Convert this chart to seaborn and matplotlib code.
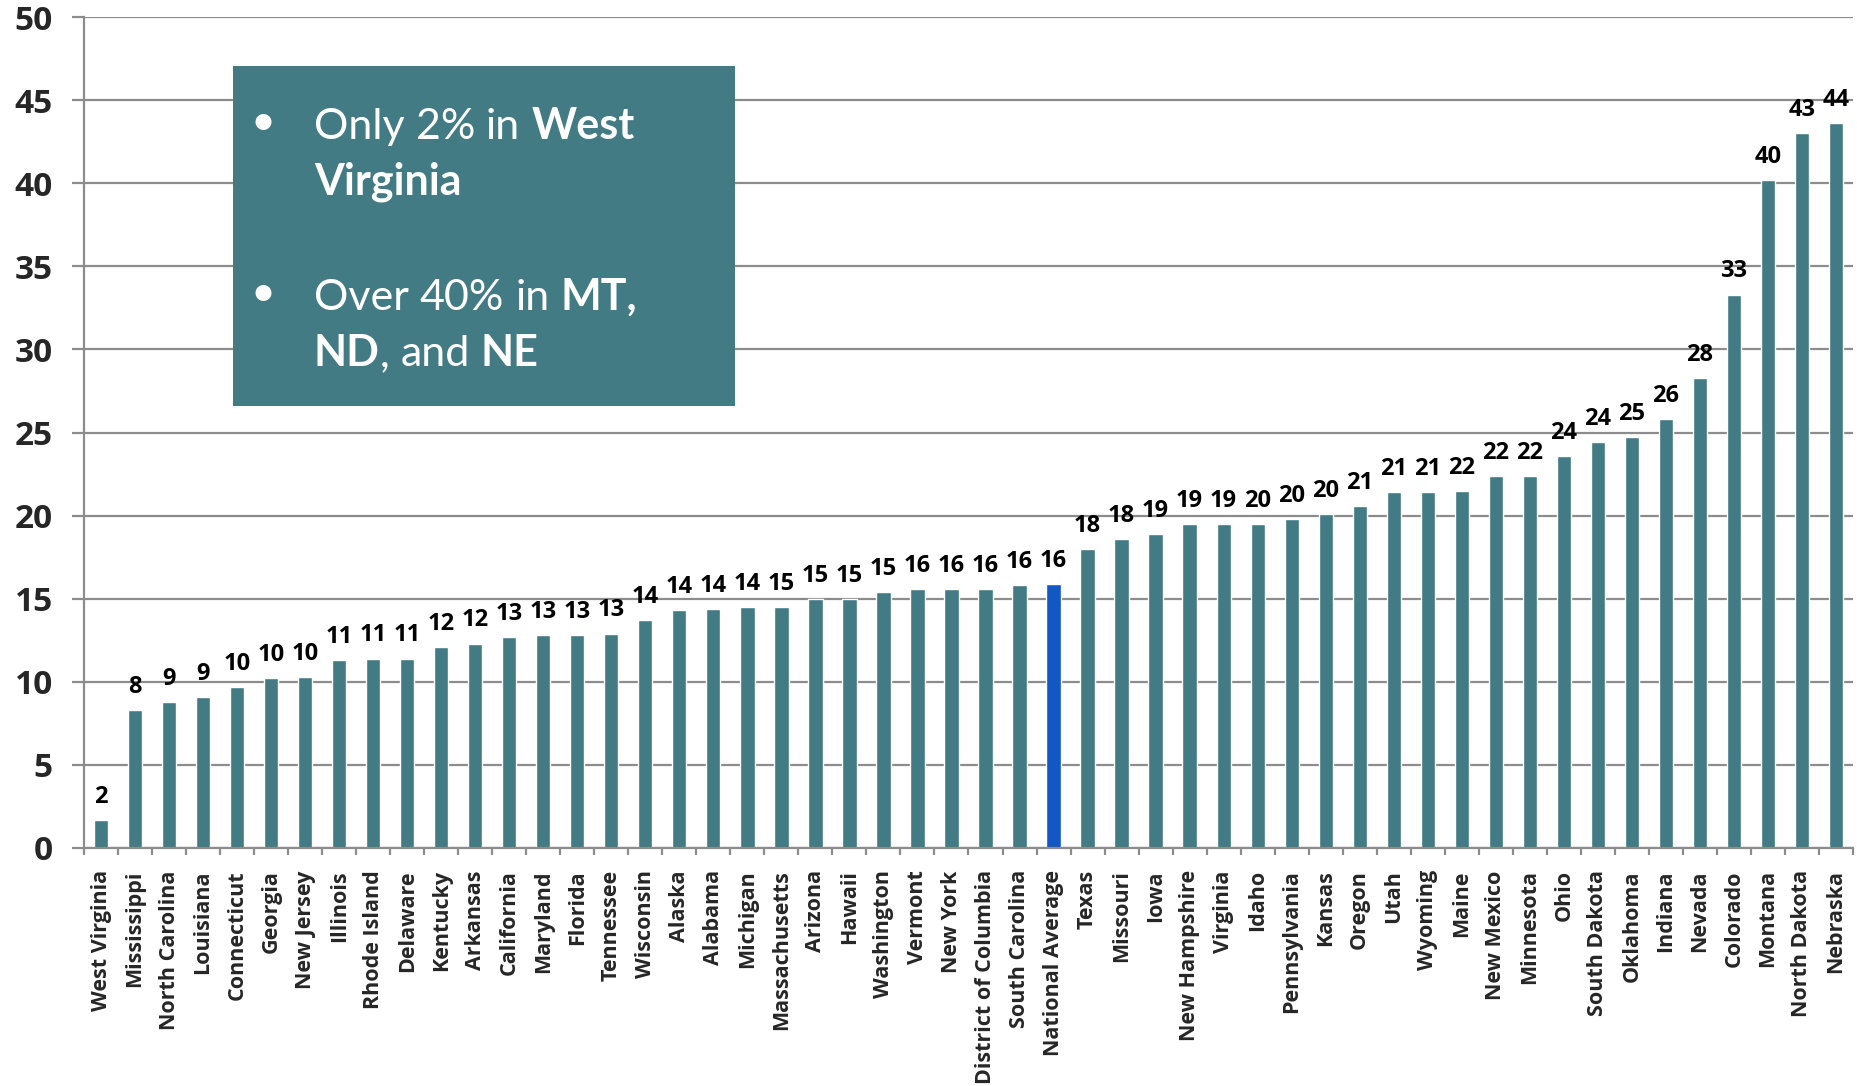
import matplotlib
matplotlib.use("Agg")
import matplotlib.pyplot as plt
import seaborn as sns
import pandas as pd
from matplotlib.patches import Rectangle

states = ["West Virginia", "Mississippi", "North Carolina", "Louisiana", "Connecticut",
          "Georgia", "New Jersey", "Illinois", "Rhode Island", "Delaware", "Kentucky",
          "Arkansas", "California", "Maryland", "Florida", "Tennessee", "Wisconsin",
          "Alaska", "Alabama", "Michigan", "Massachusetts", "Arizona", "Hawaii",
          "Washington", "Vermont", "New York", "District of Columbia", "South Carolina",
          "National Average", "Texas", "Missouri", "Iowa", "New Hampshire", "Virginia",
          "Idaho", "Pennsylvania", "Kansas", "Oregon", "Utah", "Wyoming", "Maine",
          "New Mexico", "Minnesota", "Ohio", "South Dakota", "Oklahoma", "Indiana",
          "Nevada", "Colorado", "Montana", "North Dakota", "Nebraska"]

values = [1.7, 8.3, 8.8, 9.1, 9.7, 10.2, 10.3, 11.3, 11.4, 11.4, 12.1, 12.3, 12.7, 12.8,
          12.8, 12.9, 13.7, 14.3, 14.4, 14.5, 14.5, 15.0, 15.0, 15.4, 15.6, 15.6, 15.6,
          15.8, 15.9, 18.0, 18.6, 18.9, 19.5, 19.5, 19.5, 19.8, 20.1, 20.6, 21.4, 21.4,
          21.5, 22.4, 22.4, 23.6, 24.4, 24.7, 25.8, 28.3, 33.3, 40.2, 43.0, 43.6]

value_labels = ["2", "8", "9", "9", "10", "10", "10", "11", "11", "11", "12", "12", "13",
                "13", "13", "13", "14", "14", "14", "14", "15", "15", "15", "15", "16",
                "16", "16", "16", "16", "18", "18", "19", "19", "19", "20", "20", "20",
                "21", "21", "21", "22", "22", "22", "24", "24", "25", "26", "28", "33",
                "40", "43", "44"]

y_ticks = [0, 5, 10, 15, 20, 25, 30, 35, 40, 45, 50]

highlight = "National Average"
TEAL = "#427B84"
BLUE = "#1257C4"
GRID = "#8C8C8C"

sns.set_theme(style="white")
plt.rcParams["font.family"] = ["Lato", "DejaVu Sans"]
LABEL_FONT = ["Open Sans", "DejaVu Sans"]

W, H = 1858, 1086
fig = plt.figure(figsize=(W / 100, H / 100), dpi=100)
ax = fig.add_axes([84 / W, 1 - 848 / H, (1853 - 84) / W, (848 - 17) / H])

df = pd.DataFrame({"state": states, "value": values})
palette = {s: (BLUE if s == highlight else TEAL) for s in states}
sns.barplot(data=df, x="state", y="value", hue="state", palette=palette,
            legend=False, width=0.42, ax=ax, saturation=1, order=states)

ax.set_xlim(-0.5, len(states) - 0.5)
ax.set_ylim(0, 50)
ax.set_yticks(y_ticks)
ax.set_yticklabels([str(t) for t in y_ticks], fontsize=24, fontweight="bold",
                   family=LABEL_FONT)
ax.set_xlabel("")
ax.set_ylabel("")
ax.set_axisbelow(True)
ax.yaxis.grid(True, color=GRID, linewidth=1.6)
ax.xaxis.grid(False)

for s in ["top", "right"]:
    ax.spines[s].set_visible(False)
for s in ["left", "bottom"]:
    ax.spines[s].set_color(GRID)
    ax.spines[s].set_linewidth(1.6)

ax.set_xticks(range(len(states)))
ax.set_xticklabels(states, rotation=90, fontsize=15.5, fontweight="bold", va="top",
                   ha="center", family=LABEL_FONT)
ax.set_xticks([i - 0.5 for i in range(len(states) + 1)], minor=True)
ax.tick_params(axis="x", which="major", length=0, pad=16)
ax.tick_params(axis="x", which="minor", length=5, width=1.6, color=GRID, bottom=True)
ax.tick_params(axis="y", which="major", length=8.5, width=1.6, color=GRID, pad=14, left=True)

bars = sorted(ax.patches, key=lambda p: p.get_x())
for p, lab in zip(bars, value_labels):
    ax.annotate(lab, (p.get_x() + p.get_width() / 2, p.get_height()),
                xytext=(0, 8), textcoords="offset points", ha="center", va="bottom",
                fontsize=17, fontweight="bold", color="black", family=LABEL_FONT)

# Annotation box
fig.patches.append(Rectangle((233 / W, 1 - 406 / H), (735 - 233) / W, (406 - 66) / H,
                             transform=fig.transFigure, facecolor=TEAL, edgecolor="none",
                             zorder=5))

renderer = fig.canvas.get_renderer()
FS = 31

def text_width(s, weight):
    t = fig.text(0, 0, s, fontsize=FS, fontweight=weight)
    w = t.get_window_extent(renderer).width
    t.remove()
    return w

space_w = text_width("n n", "normal") - text_width("nn", "normal")

def draw_line(x, y, parts):
    for s, weight in parts:
        if s == " ":
            x += space_w
            continue
        t = fig.text(x / W, 1 - y / H, s, fontsize=FS, fontweight=weight, color="white",
                     ha="left", va="baseline", zorder=6)
        x += t.get_window_extent(renderer).width

bullet_x, text_x = 251, 314
lines = [
    (139, True, [("Only", "normal"), (" ", None), ("2%", "normal"), (" ", None),
                 ("in", "normal"), (" ", None), ("West", "bold")]),
    (194, False, [("Virginia", "bold")]),
    (310, True, [("Over", "normal"), (" ", None), ("40%", "normal"), (" ", None),
                 ("in", "normal"), (" ", None), ("MT,", "bold")]),
    (366, False, [("ND", "bold"), (",", "normal"), (" ", None), ("and", "normal"),
                  (" ", None), ("NE", "bold")]),
]
for y, bullet, parts in lines:
    if bullet:
        fig.text(bullet_x / W, 1 - (y - 16) / H, "•", fontsize=FS, color="white",
                 ha="left", va="center", zorder=6)
    draw_line(text_x, y, parts)

fig.savefig("out.png", dpi=100)
